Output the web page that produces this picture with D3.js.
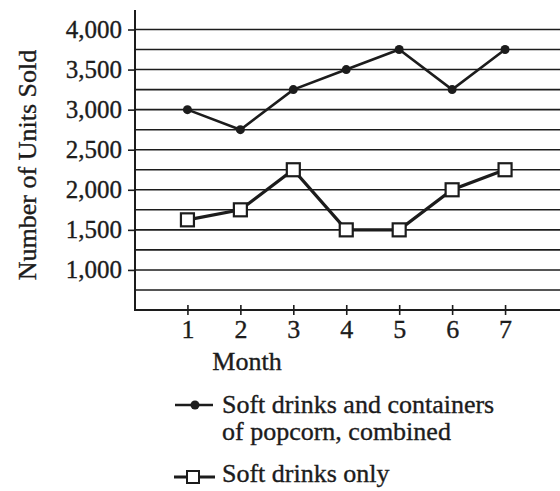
<!DOCTYPE html>
<html>
<head>
<meta charset="utf-8">
<script src="https://cdn.jsdelivr.net/npm/d3@7"></script>
<style>
  body { margin: 0; background: #fff; }
  svg text { font-family: "Liberation Serif", "Times New Roman", serif; fill: #1c1c1c; stroke: #1c1c1c; stroke-width: 0.35px; }
</style>
</head>
<body>
<svg id="chart" width="560" height="491"></svg>
<script>
// data
const months = [1, 2, 3, 4, 5, 6, 7];
const combined = [3000, 2750, 3250, 3500, 3750, 3250, 3750];
const drinksOnly = [1625, 1750, 2250, 1500, 1500, 2000, 2250];
const yTicks = [1000, 1500, 2000, 2500, 3000, 3500, 4000];
const gridValues = d3.range(750, 4001, 250);
const legendLabels = [["Soft drinks and containers", "of popcorn, combined"], ["Soft drinks only"]];

const ink = "#1c1c1c";
const svg = d3.select("#chart");

// Set up scales
const xScale = d3.scaleLinear().domain([0, 8]).range([134.5, 558]);
const yScale = d3.scaleLinear().domain([500, 4000]).range([310, 29.5]);

// Horizontal gridlines
svg.append("g")
  .selectAll("line")
  .data(gridValues)
  .enter().append("line")
  .attr("x1", 135)
  .attr("x2", 560)
  .attr("y1", d => yScale(d))
  .attr("y2", d => yScale(d))
  .attr("stroke", ink)
  .attr("stroke-width", 1.6);

// Y axis
const yAxis = d3.axisLeft(yScale)
  .tickValues(yTicks)
  .tickFormat(d3.format(","))
  .tickSize(7)
  .tickPadding(6);

const yG = svg.append("g")
  .attr("transform", "translate(135,0)")
  .call(yAxis);
yG.select(".domain").remove();
yG.selectAll("line").attr("stroke", ink).attr("stroke-width", 1.6);
yG.selectAll("text").style("font-size", "25px").attr("fill", ink).style("font-family", "Liberation Serif");

svg.append("line")
  .attr("x1", 135).attr("x2", 135)
  .attr("y1", 10).attr("y2", 311)
  .attr("stroke", ink).attr("stroke-width", 2);

// X axis
const xAxis = d3.axisBottom(xScale)
  .tickValues(months)
  .tickSize(5);

const xG = svg.append("g")
  .attr("transform", "translate(0,310)")
  .call(xAxis);
xG.select(".domain").remove();
xG.selectAll("line").attr("y1", -5).attr("y2", 5).attr("stroke", ink).attr("stroke-width", 1.6);
xG.selectAll("text")
  .attr("y", 28).attr("dy", 0)
  .style("font-size", "26px").attr("fill", ink).style("font-family", "Liberation Serif");

svg.append("line")
  .attr("x1", 134).attr("x2", 560)
  .attr("y1", 310).attr("y2", 310)
  .attr("stroke", ink).attr("stroke-width", 2);

// Axis titles
svg.append("text")
  .attr("transform", "translate(36,165) rotate(-90)")
  .style("text-anchor", "middle")
  .style("font-size", "26px")
  .text("Number of Units Sold");

svg.append("text")
  .attr("x", 247).attr("y", 370)
  .style("text-anchor", "middle")
  .style("font-size", "26px")
  .text("Month");

// Lines
const line = d3.line()
  .x((d, i) => xScale(months[i]))
  .y(d => yScale(d));

svg.append("path")
  .datum(combined)
  .attr("fill", "none")
  .attr("stroke", ink)
  .attr("stroke-width", 2.6)
  .attr("d", line);

svg.append("path")
  .datum(drinksOnly)
  .attr("fill", "none")
  .attr("stroke", ink)
  .attr("stroke-width", 3.2)
  .attr("d", line);

svg.selectAll(".dot")
  .data(combined)
  .enter().append("circle")
  .attr("class", "dot")
  .attr("cx", (d, i) => xScale(months[i]))
  .attr("cy", d => yScale(d))
  .attr("r", 4.5)
  .attr("fill", ink);

svg.selectAll(".sq")
  .data(drinksOnly)
  .enter().append("rect")
  .attr("class", "sq")
  .attr("x", (d, i) => xScale(months[i]) - 6.5)
  .attr("y", d => yScale(d) - 6.5)
  .attr("width", 13)
  .attr("height", 13)
  .attr("fill", "#fff")
  .attr("stroke", ink)
  .attr("stroke-width", 2.2);

// Legend
const legend = svg.append("g");

legend.append("line")
  .attr("x1", 175).attr("x2", 213).attr("y1", 405).attr("y2", 405)
  .attr("stroke", ink).attr("stroke-width", 2.6);
legend.append("circle")
  .attr("cx", 195).attr("cy", 405).attr("r", 4.5).attr("fill", ink);

legend.append("line")
  .attr("x1", 174).attr("x2", 215).attr("y1", 477).attr("y2", 477)
  .attr("stroke", ink).attr("stroke-width", 3);
legend.append("rect")
  .attr("x", 187).attr("y", 471).attr("width", 12).attr("height", 12)
  .attr("fill", "#fff").attr("stroke", ink).attr("stroke-width", 2);

const legendText = legend.append("text")
  .attr("x", 222).attr("y", 413)
  .style("font-size", "26px");
legendText.append("tspan").attr("x", 222).attr("y", 413).text(legendLabels[0][0]);
legendText.append("tspan").attr("x", 222).attr("y", 440).text(legendLabels[0][1]);

legend.append("text")
  .attr("x", 222).attr("y", 482)
  .style("font-size", "26px")
  .text(legendLabels[1][0]);
</script>
</body>
</html>
